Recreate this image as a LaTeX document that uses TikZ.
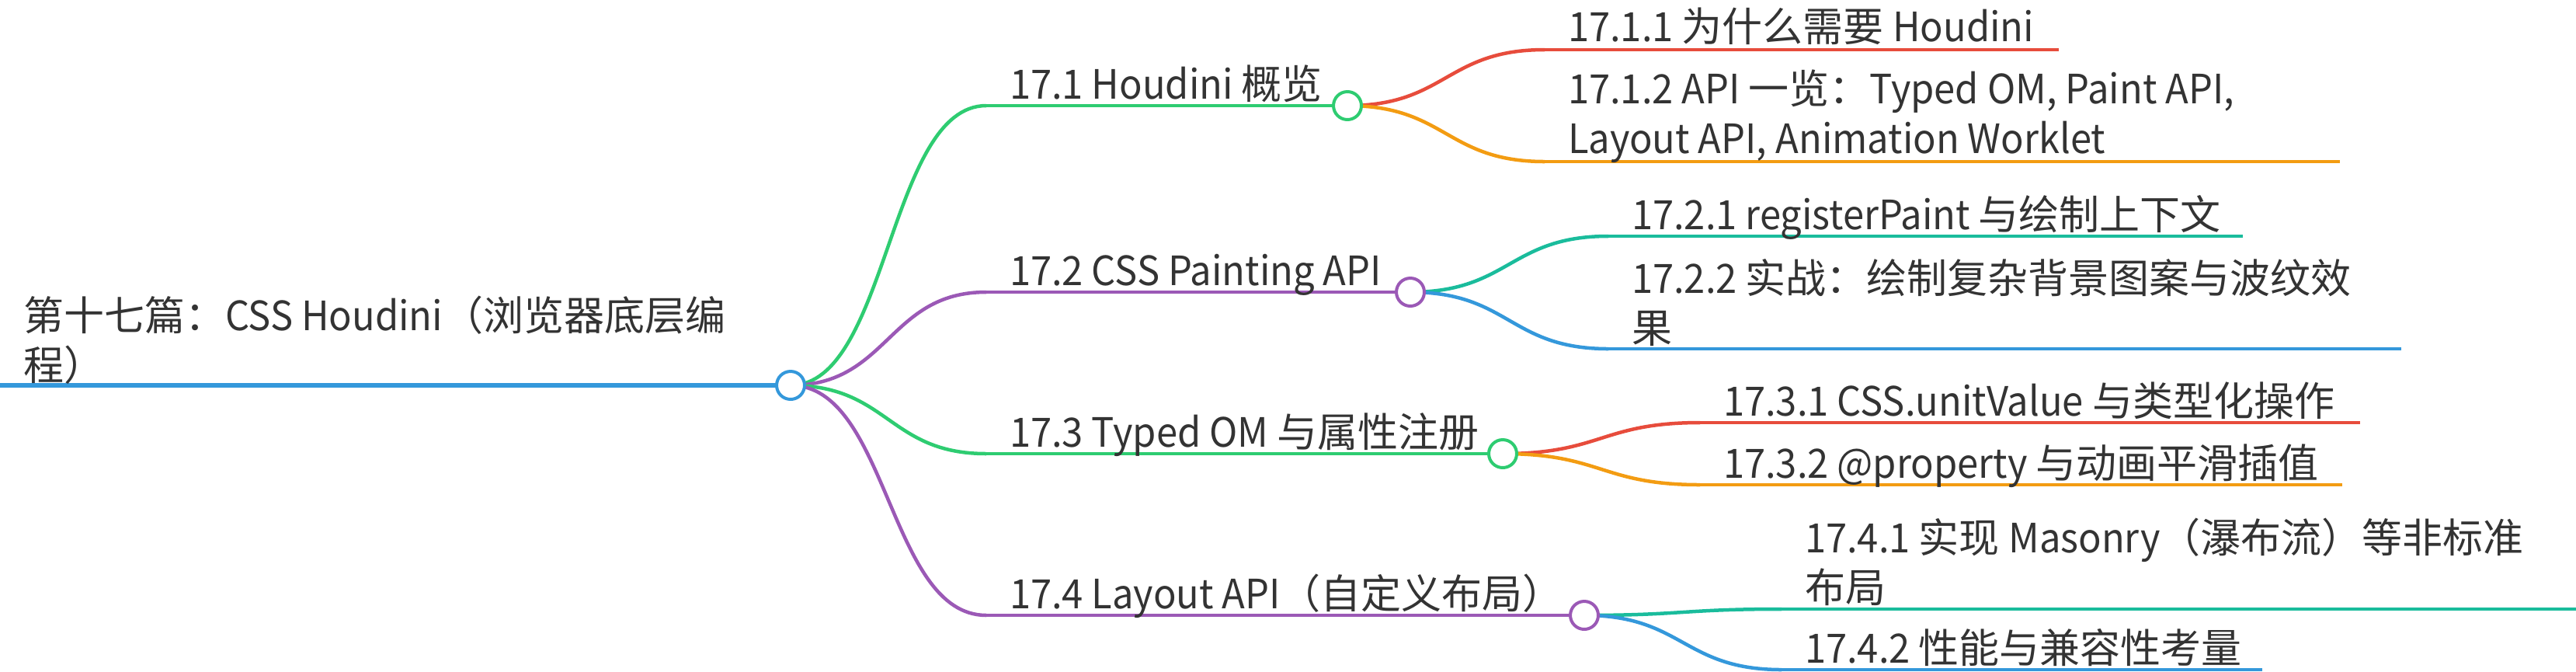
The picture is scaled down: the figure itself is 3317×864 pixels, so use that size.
\documentclass[tikz,border=0pt]{standalone}
\usepackage{fontspec}
\setmainfont{Noto Sans CJK SC}[FakeStretch=0.94]
\newfontfamily\cjkfnt{Noto Sans CJK SC}
\newfontfamily\latfnt{Noto Sans CJK SC}[FakeStretch=0.94]
\XeTeXinterchartokenstate=1
\newXeTeXintercharclass\mmcjk
\newcount\mmc
\mmc="3000 \loop\ifnum\mmc<"3040 \XeTeXcharclass\mmc=\mmcjk \advance\mmc by 1 \repeat
\mmc="4E00 \loop\ifnum\mmc<"A000 \XeTeXcharclass\mmc=\mmcjk \advance\mmc by 1 \repeat
\mmc="FF00 \loop\ifnum\mmc<"FFF0 \XeTeXcharclass\mmc=\mmcjk \advance\mmc by 1 \repeat
\XeTeXinterchartoks 0 \mmcjk = {\cjkfnt}
\XeTeXinterchartoks 4095 \mmcjk = {\cjkfnt}
\XeTeXinterchartoks \mmcjk 0 = {\latfnt}
\XeTeXinterchartoks 4095 0 = {\latfnt}
\usetikzlibrary{calc}
\definecolor{cblue}{HTML}{3498DB}
\definecolor{cgreen}{HTML}{2ECC71}
\definecolor{cpurple}{HTML}{9B59B6}
\definecolor{cred}{HTML}{E74C3C}
\definecolor{corange}{HTML}{F39C12}
\definecolor{cteal}{HTML}{1ABC9C}
\definecolor{ctext}{HTML}{333333}
\newcommand{\mmtwo}[2]{\vtop{\baselineskip=32pt\relax\hbox{#1}\hbox{#2}}}
\begin{document}
\begin{tikzpicture}[x=0.5pt,y=-0.5pt,
 lbl/.style={anchor=base west, inner sep=0pt, outer sep=0pt, text=ctext, font=\fontsize{26pt}{32pt}\selectfont},
 dot/.style={circle, fill=white, line width=2pt, minimum size=18pt, inner sep=0pt},
 bar/.style={line width=2.25pt},
 rootbar/.style={line width=3pt},
 link/.style={line width=2.25pt, to path={let \p1=(\tikztostart), \p2=(\tikztotarget) in .. controls ({0.5*(\x1+\x2)},\y1) and ({0.5*(\x1+\x2)},\y2) .. (\tikztotarget)}}
]
\useasboundingbox (0,0) rectangle (3317,864);
% coordinates
\coordinate (r0) at (0,496);
\coordinate (rc) at (1018,496);
\coordinate (s1) at (1270,136); \coordinate (c1) at (1735,136);
\coordinate (s2) at (1270,376); \coordinate (c2) at (1816,376);
\coordinate (s3) at (1270,584); \coordinate (c3) at (1935,584);
\coordinate (s4) at (1270,792); \coordinate (c4) at (2040,792);
\coordinate (s11) at (1989,64);  \coordinate (e11) at (2651,64);
\coordinate (s12) at (1989,208); \coordinate (e12) at (3013,208);
\coordinate (s21) at (2071,304); \coordinate (e21) at (2888,304);
\coordinate (s22) at (2071,449); \coordinate (e22) at (3092,449);
\coordinate (s31) at (2189,544); \coordinate (e31) at (3039,544);
\coordinate (s32) at (2189,624); \coordinate (e32) at (3016,624);
\coordinate (s41) at (2294,784); \coordinate (e41) at (3340,784);
\coordinate (s42) at (2294,862); \coordinate (e42) at (2913,862);
% root line
\draw[rootbar, cblue] (r0) -- (rc);
% level 1 links and bars
\draw[link, cgreen] (rc) to (s1); \draw[bar, cgreen] (s1) -- (c1);
\draw[link, cpurple] (rc) to (s2); \draw[bar, cpurple] (s2) -- (c2);
\draw[link, cgreen] (rc) to (s3); \draw[bar, cgreen] (s3) -- (c3);
\draw[link, cpurple] (rc) to (s4); \draw[bar, cpurple] (s4) -- (c4);
% level 2 links and bars
\draw[link, cred] (c1) to (s11); \draw[bar, cred] (s11) -- (e11);
\draw[link, corange] (c1) to (s12); \draw[bar, corange] (s12) -- (e12);
\draw[link, cteal] (c2) to (s21); \draw[bar, cteal] (s21) -- (e21);
\draw[link, cblue] (c2) to (s22); \draw[bar, cblue] (s22) -- (e22);
\draw[link, cred] (c3) to (s31); \draw[bar, cred] (s31) -- (e31);
\draw[link, corange] (c3) to (s32); \draw[bar, corange] (s32) -- (e32);
\draw[link, cteal] (c4) to (s41); \draw[bar, cteal] (s41) -- (e41);
\draw[link, cblue] (c4) to (s42); \draw[bar, cblue] (s42) -- (e42);
% circles
\node[dot, draw=cblue] (r) at (rc) {};
\node[dot, draw=cgreen] (n1) at (c1) {};
\node[dot, draw=cpurple] (n2) at (c2) {};
\node[dot, draw=cgreen] (n3) at (c3) {};
\node[dot, draw=cpurple] (n4) at (c4) {};
% labels
\node[lbl] (rt) at (30,425) {\mmtwo{第十七篇：CSS Houdini（浏览器底层编}{程）}};
\node[lbl] (t1) at (1300,127) {17.1 Houdini 概览};
\node[lbl] (t2) at (1300,367) {17.2 CSS Painting API};
\node[lbl] (t3) at (1300,575) {17.3 Typed OM 与属性注册};
\node[lbl] (t4) at (1300,783) {17.4 Layout API（自定义布局）};
\node[lbl] (t11) at (2019,53) {17.1.1 为什么需要 Houdini};
\node[lbl] (t12) at (2019,133) {\mmtwo{17.1.2 API 一览：Typed OM, Paint API,}{Layout API, Animation Worklet}};
\node[lbl] (t21) at (2101,295) {17.2.1 registerPaint 与绘制上下文};
\node[lbl] (t22) at (2101,377) {\mmtwo{17.2.2 实战：绘制复杂背景图案与波纹效}{果}};
\node[lbl] (t31) at (2219,535) {17.3.1 CSS.unitValue 与类型化操作};
\node[lbl] (t32) at (2219,615) {17.3.2 @property 与动画平滑插值};
\node[lbl] (t41) at (2324,711) {\mmtwo{17.4.1 实现 Masonry（瀑布流）等非标准}{布局}};
\node[lbl] (t42) at (2324,853) {17.4.2 性能与兼容性考量};
\end{tikzpicture}
\end{document}
